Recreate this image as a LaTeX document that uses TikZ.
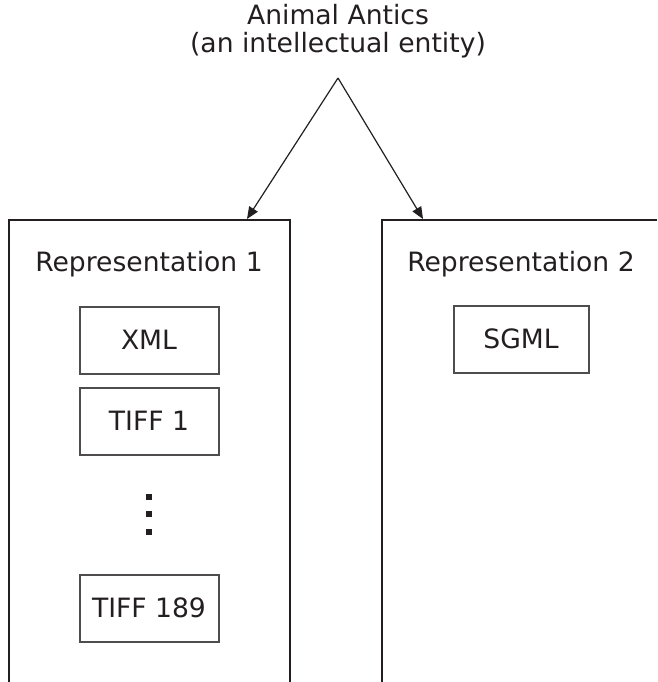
\documentclass[tikz,border=0pt]{standalone}
\usepackage{fontspec}
\setmainfont{DejaVu Sans}
\usetikzlibrary{arrows.meta}
\definecolor{ink}{HTML}{231F20}
\begin{document}
\begin{tikzpicture}[x=1pt,y=-1pt,
  every node/.style={text=ink,font=\fontsize{26.6}{27.5}\selectfont,inner sep=0pt},
  frame/.style={draw=ink,line width=1.3pt},
  item/.style={draw=ink!80,line width=2pt,minimum width=139pt,minimum height=67pt},
  link/.style={draw=ink,line width=1.2pt,-{Triangle[length=12pt,width=10pt]}},
  dot/.style={fill=ink,draw=none,minimum size=6pt}]
\useasboundingbox (0,0) rectangle (657,682);
% title
\node[align=center] (title) at (338,31) {Animal Antics\\(an intellectual entity)};
\coordinate (apex) at (338,78);
% frames
\draw[frame] (9,682) -- (9,220) -- (290,220) -- (290,682);
\draw[frame] (382,682) -- (382,220) -- (657,220);
\coordinate (lt) at (247,219);
\coordinate (rt) at (423,219);
\draw[link] (apex) -- (lt);
\draw[link] (apex) -- (rt);
% labels
\node (rep1) at (149,264) {Representation 1};
\node (rep2) at (521,264) {Representation 2};
% items
\node[item] (xml) at (149,340) {XML};
\node[item] (tiff1) at (149,421) {TIFF 1};
\node[item] (tiff189) at (149,608) {TIFF 189};
\node[item,minimum width=135pt] (sgml) at (521,339) {SGML};
% dots
\node[dot] (d1) at (149,497) {};
\node[dot] (d2) at (149,514) {};
\node[dot] (d3) at (149,532) {};
\end{tikzpicture}
\end{document}
